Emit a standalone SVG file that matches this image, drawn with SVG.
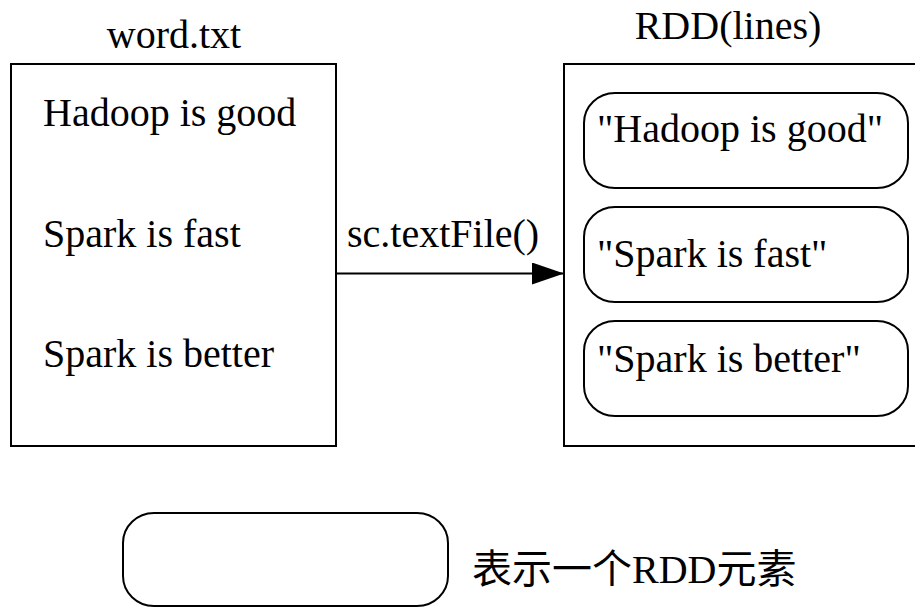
<svg xmlns="http://www.w3.org/2000/svg" width="915" height="608" viewBox="0 0 915 608">
<style>
.box{fill:#fff;stroke:#000;stroke-width:2}
.pill{fill:#fff;stroke:#000;stroke-width:2}
text{font-family:'Liberation Serif','Times New Roman',Times,'DejaVu Serif','Noto Sans CJK SC',serif;font-size:40px;fill:#000}
.c{text-anchor:middle}
</style>
<defs>
<marker id="ah" markerUnits="userSpaceOnUse" markerWidth="34" markerHeight="24" refX="32" refY="11" orient="auto">
<polygon points="0,0 32,11 0,22" fill="#000"/>
</marker>
</defs>
<rect width="915" height="608" fill="#fff"/>
<g id="word-txt" font-family="Liberation Serif, serif">
<text class="c" x="174" y="48">word.txt</text>
<rect class="box" x="11" y="64" width="325" height="382"/>
<text x="43" y="126">Hadoop is good</text>
<text x="43" y="247">Spark is fast</text>
<text x="43" y="367">Spark is better</text>
</g>
<g id="rdd-lines">
<text class="c" x="728" y="39">RDD(lines)</text>
<rect class="box" x="564" y="64" width="360" height="382"/>
</g>
<g id="elem1">
<rect class="pill" x="584" y="93" width="324" height="95" rx="31" ry="30"/>
<text x="597" y="142">"Hadoop is good"</text>
</g>
<g id="elem2">
<rect class="pill" x="584" y="207" width="324" height="95" rx="31" ry="30"/>
<text x="597" y="267">"Spark is fast"</text>
</g>
<g id="elem3">
<rect class="pill" x="584" y="321" width="324" height="95" rx="31" ry="30"/>
<text x="597" y="372">"Spark is better"</text>
</g>
<g id="connectors">
<line x1="336" y1="273.5" x2="564" y2="273.5" stroke="#000" stroke-width="2" marker-end="url(#ah)"/>
<text x="347" y="247">sc.textFile()</text>
</g>
<g id="legend">
<rect class="pill" x="123" y="513" width="325" height="93" rx="31" ry="30"/>
<text x="472" y="583">表示一个RDD元素</text>
</g>
</svg>
